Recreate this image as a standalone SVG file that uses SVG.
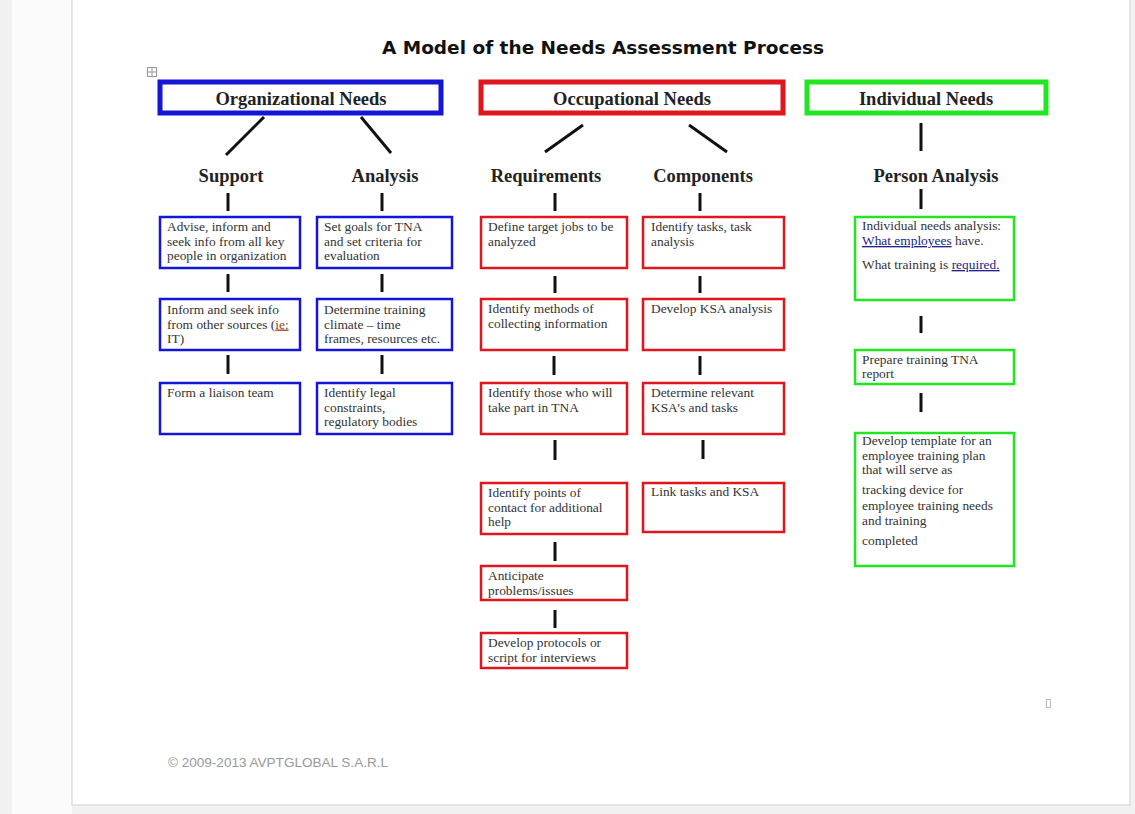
<svg xmlns="http://www.w3.org/2000/svg" width="1135" height="814" viewBox="0 0 1135 814">
<style>
.hdr{font-family:"Liberation Serif","Times New Roman",serif;font-weight:bold;font-size:18.5px;fill:#222;text-anchor:middle}
.col{font-family:"Liberation Serif","Times New Roman",serif;font-weight:bold;font-size:18.5px;fill:#222;text-anchor:middle}
.t{font-family:"Liberation Serif","Times New Roman",serif;font-size:13.4px;fill:#333}
.lnk{fill:#22228a;text-decoration:underline}
.sp{fill:#a04020;text-decoration:underline}
.hb{fill:#fff;stroke-width:5}
.bb{fill:#fff;stroke-width:2.5}
.blue{stroke:#1515d8}
.red{stroke:#e0161e}
.green{stroke:#22e622}
.conn line{stroke:#111;stroke-width:3;stroke-linecap:butt}
</style>
<rect width="1135" height="814" fill="#f1f1f1"/>
<rect x="12" y="0" width="60" height="814" fill="#fbfbfb"/>
<rect x="72" y="-2" width="1058" height="807" fill="#fff" stroke="#dedede" stroke-width="1.5"/>
<text x="603" y="54" font-family="DejaVu Sans,Verdana,sans-serif" font-weight="bold" font-size="18.5" fill="#111" text-anchor="middle">A Model of the Needs Assessment Process</text>
<g id="icon" stroke="#999" stroke-width="1" fill="none"><rect x="147.5" y="67.5" width="9" height="9"/><line x1="152" y1="68" x2="152" y2="76"/><line x1="148" y1="72" x2="156" y2="72"/></g>

<g class="conn">
<line x1="264" y1="117" x2="226" y2="155"/>
<line x1="361" y1="117" x2="391" y2="153"/>
<line x1="583" y1="125" x2="545" y2="152"/>
<line x1="689" y1="125" x2="727" y2="152"/>
<line x1="921" y1="123" x2="921" y2="151"/>
<line x1="228" y1="193" x2="228" y2="211"/>
<line x1="382" y1="193" x2="382" y2="211"/>
<line x1="555" y1="193" x2="555" y2="211"/>
<line x1="700" y1="193" x2="700" y2="211"/>
<line x1="921" y1="189" x2="921" y2="209"/>
<line x1="228" y1="274" x2="228" y2="292"/>
<line x1="228" y1="355" x2="228" y2="374"/>
<line x1="382" y1="274" x2="382" y2="292"/>
<line x1="382" y1="355" x2="382" y2="374"/>
<line x1="555" y1="276" x2="555" y2="293"/>
<line x1="554" y1="356" x2="554" y2="375"/>
<line x1="555" y1="440" x2="555" y2="460"/>
<line x1="555" y1="542" x2="555" y2="561"/>
<line x1="555" y1="610" x2="555" y2="628"/>
<line x1="700" y1="276" x2="700" y2="293"/>
<line x1="700" y1="356" x2="700" y2="375"/>
<line x1="703" y1="440" x2="703" y2="459"/>
<line x1="921" y1="316" x2="921" y2="333"/>
<line x1="921" y1="393" x2="921" y2="412"/>
</g>

<g id="org-needs"><rect class="hb blue" x="160" y="82" width="281" height="31"/><text class="hdr" x="301" y="105">Organizational Needs</text></g>
<g id="occ-needs"><rect class="hb red" x="481" y="82" width="302" height="31"/><text class="hdr" x="632" y="105">Occupational Needs</text></g>
<g id="ind-needs"><rect class="hb green" x="807" y="82" width="239" height="31"/><text class="hdr" x="926" y="105">Individual Needs</text></g>

<g id="h-support"><text class="col" x="231" y="182">Support</text></g>
<g id="h-analysis"><text class="col" x="385" y="182">Analysis</text></g>
<g id="h-req"><text class="col" x="546" y="182">Requirements</text></g>
<g id="h-comp"><text class="col" x="703" y="182">Components</text></g>
<g id="h-person"><text class="col" x="936" y="182">Person Analysis</text></g>

<g id="s1"><rect class="bb blue" x="160" y="217" width="140" height="51"/><text class="t"><tspan x="167" y="231">Advise, inform and</tspan><tspan x="167" y="245.5">seek info from all key</tspan><tspan x="167" y="260">people in organization</tspan></text></g>
<g id="s2"><rect class="bb blue" x="160" y="299" width="140" height="51"/><text class="t"><tspan x="167" y="314">Inform and seek info</tspan><tspan x="167" y="328.5">from other sources (<tspan class="sp">ie:</tspan></tspan><tspan x="167" y="343">IT)</tspan></text></g>
<g id="s3"><rect class="bb blue" x="160" y="383" width="140" height="51"/><text class="t" x="167" y="397">Form a liaison team</text></g>

<g id="a1"><rect class="bb blue" x="317" y="217" width="135" height="51"/><text class="t"><tspan x="324" y="231">Set goals for TNA</tspan><tspan x="324" y="245.5">and set criteria for</tspan><tspan x="324" y="260">evaluation</tspan></text></g>
<g id="a2"><rect class="bb blue" x="317" y="299" width="135" height="51"/><text class="t"><tspan x="324" y="314">Determine training</tspan><tspan x="324" y="328.5">climate – time</tspan><tspan x="324" y="343">frames, resources etc.</tspan></text></g>
<g id="a3"><rect class="bb blue" x="317" y="383" width="135" height="51"/><text class="t"><tspan x="324" y="397">Identify legal</tspan><tspan x="324" y="411.5">constraints,</tspan><tspan x="324" y="426">regulatory bodies</tspan></text></g>

<g id="r1"><rect class="bb red" x="481" y="217" width="146" height="51"/><text class="t"><tspan x="488" y="231">Define target jobs to be</tspan><tspan x="488" y="245.5">analyzed</tspan></text></g>
<g id="r2"><rect class="bb red" x="481" y="299" width="146" height="51"/><text class="t"><tspan x="488" y="313">Identify methods of</tspan><tspan x="488" y="328">collecting information</tspan></text></g>
<g id="r3"><rect class="bb red" x="481" y="383" width="146" height="51"/><text class="t"><tspan x="488" y="397">Identify those who will</tspan><tspan x="488" y="412">take part in TNA</tspan></text></g>
<g id="r4"><rect class="bb red" x="481" y="483" width="146" height="51"/><text class="t"><tspan x="488" y="497">Identify points of</tspan><tspan x="488" y="512">contact for additional</tspan><tspan x="488" y="526">help</tspan></text></g>
<g id="r5"><rect class="bb red" x="481" y="566" width="146" height="34"/><text class="t"><tspan x="488" y="580">Anticipate</tspan><tspan x="488" y="595">problems/issues</tspan></text></g>
<g id="r6"><rect class="bb red" x="481" y="633" width="146" height="35"/><text class="t"><tspan x="488" y="647">Develop protocols or</tspan><tspan x="488" y="662">script for interviews</tspan></text></g>

<g id="c1"><rect class="bb red" x="643" y="217" width="141" height="51"/><text class="t"><tspan x="651" y="231">Identify tasks, task</tspan><tspan x="651" y="245.5">analysis</tspan></text></g>
<g id="c2"><rect class="bb red" x="643" y="299" width="141" height="51"/><text class="t" x="651" y="313">Develop KSA analysis</text></g>
<g id="c3"><rect class="bb red" x="643" y="383" width="141" height="51"/><text class="t"><tspan x="651" y="397">Determine relevant</tspan><tspan x="651" y="412">KSA’s and  tasks</tspan></text></g>
<g id="c4"><rect class="bb red" x="643" y="483" width="141" height="49"/><text class="t" x="651" y="496">Link tasks and KSA</text></g>

<g id="p1"><rect class="bb green" x="855" y="217" width="159" height="83"/><text class="t"><tspan x="862" y="230">Individual needs analysis:</tspan><tspan x="862" y="245"><tspan class="lnk">What  employees</tspan> have.</tspan><tspan x="862" y="269">What training is <tspan class="lnk">required.</tspan></tspan></text></g>
<g id="p2"><rect class="bb green" x="855" y="350" width="159" height="34"/><text class="t"><tspan x="862" y="364">Prepare training TNA</tspan><tspan x="862" y="378">report</tspan></text></g>
<g id="p3"><rect class="bb green" x="855" y="433" width="159" height="133"/><text class="t"><tspan x="862" y="445">Develop template for an</tspan><tspan x="862" y="460">employee training plan</tspan><tspan x="862" y="474">that will serve as</tspan><tspan x="862" y="494">tracking device for</tspan><tspan x="862" y="510">employee training needs</tspan><tspan x="862" y="525">and training</tspan><tspan x="862" y="545">completed</tspan></text></g>

<rect x="1046.5" y="699.5" width="4" height="8" fill="none" stroke="#bbb" stroke-width="1"/>
<text x="168" y="767" font-family="Liberation Sans Narrow,Liberation Sans,Arial,sans-serif" font-size="12" fill="#999" textLength="220" lengthAdjust="spacingAndGlyphs">© 2009-2013 AVPTGLOBAL S.A.R.L</text>
</svg>
